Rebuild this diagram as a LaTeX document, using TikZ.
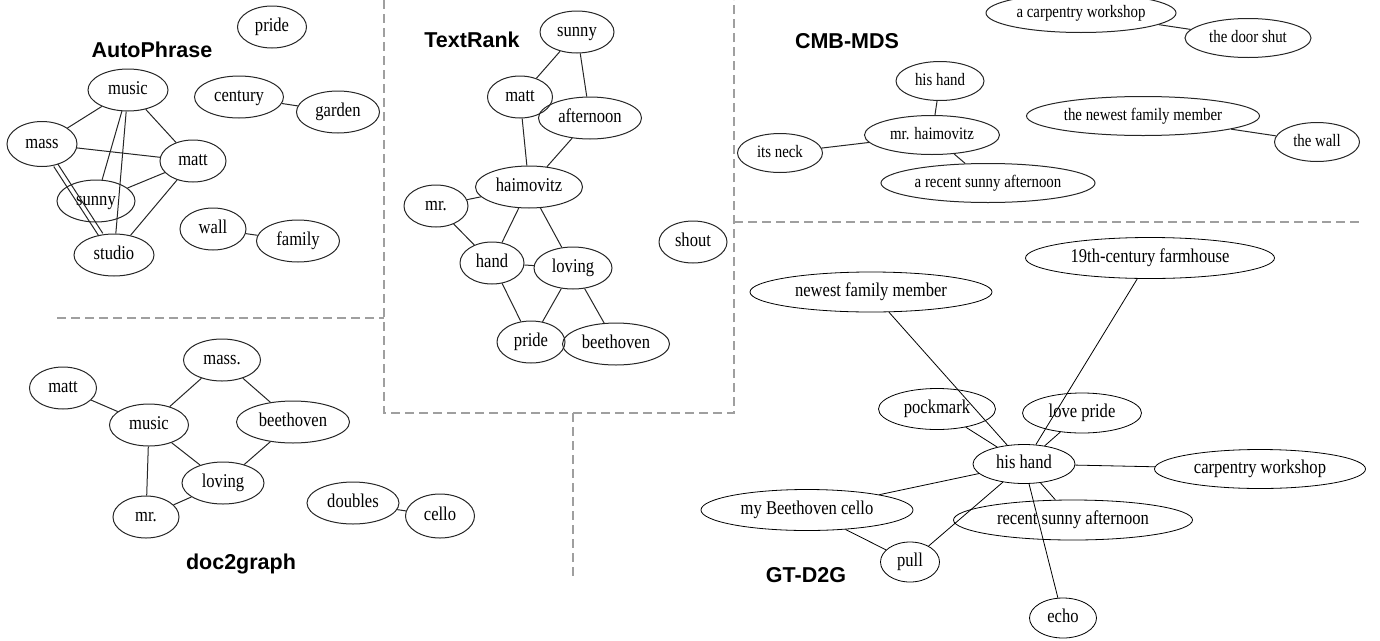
\documentclass[tikz,border=0pt]{standalone}
\usepackage{fontspec}
\setmainfont{Liberation Serif}
\newfontfamily\nodefont[FakeStretch=0.85]{Liberation Serif}
\newfontfamily\titlefont{Liberation Sans}
\usetikzlibrary{shapes.geometric}

\tikzset{
  base/.style={ellipse, draw=black!85, line width=1pt, inner sep=0pt,
    minimum height=42,
    execute at begin node={\hbox to 0pt\bgroup\hss\strut},
    execute at end node={\hss\egroup}},
  nd/.style={base, minimum width=#1,
    font=\nodefont\fontsize{19.5}{22}\selectfont},
  ndc/.style={base, minimum width=#1, minimum height=39,
    font=\nodefont\fontsize{17.5}{20}\selectfont},
  ndg/.style={base, minimum width=#1, minimum height=40, line width=.8pt,
    draw=black, font=\nodefont\fontsize{19.5}{22}\selectfont},
  ttl/.style={font=\titlefont\bfseries\fontsize{21.5}{24}\selectfont},
  lnk/.style={draw=black!85, line width=1pt},
  lnkg/.style={draw=black, line width=.8pt},
  divider/.style={draw=gray!75, line width=2pt, dash pattern=on 9pt off 5pt}
}

\begin{document}
\begin{tikzpicture}[x=1pt,y=-1pt]
  \useasboundingbox (0,0) rectangle (1380,640);

  % separators
  \draw[divider] (384,0) -- (384,413) -- (734,413) -- (734,0);
  \draw[divider] (57,318) -- (384,318);
  \draw[divider] (734,222) -- (1363,222);
  \draw[divider] (573,413) -- (573,578);

  % AutoPhrase
  \node[ttl] (tauto) at (152,50) {AutoPhrase};
  \node[nd=69] (apride) at (272,27) {pride};
  \node[nd=80] (amusic) at (128,90) {music};
  \node[nd=89] (acentury) at (239,97) {century};
  \node[nd=83] (agarden) at (338,112) {garden};
  \node[nd=70, minimum height=45] (amass) at (42,144) {mass};
  \node[nd=66] (amatt) at (193,161) {matt};
  \node[nd=78] (asunny) at (96,201) {sunny};
  \node[nd=80] (astudio) at (114,255) {studio};
  \node[nd=66] (awall) at (213,229) {wall};
  \node[nd=83] (afamily) at (298,241) {family};
  \foreach \from/\to in {amusic/amass,amusic/amatt,amusic/asunny,amusic/astudio,
      amass/amatt,amatt/asunny,amatt/astudio,acentury/agarden,awall/afamily}
    \draw[lnk] (\from) -- (\to);
  \draw[lnk, transform canvas={shift={(2,-1.3)}}] (amass) -- (astudio);
  \draw[lnk, transform canvas={shift={(-2,1.3)}}] (amass) -- (astudio);

  % TextRank
  \node[ttl] (ttext) at (472,40) {TextRank};
  \node[nd=74] (tsunny) at (577,32) {sunny};
  \node[nd=65] (tmatt) at (520,97) {matt};
  \node[nd=103] (tafternoon) at (590,118) {afternoon};
  \node[nd=107] (thaim) at (529,187) {haimovitz};
  \node[nd=64] (tmr) at (436,206) {mr.};
  \node[nd=64] (thand) at (492,263) {hand};
  \node[nd=78] (tloving) at (573,268) {loving};
  \node[nd=68] (tpride) at (531,342) {pride};
  \node[nd=107] (tbeet) at (616,344) {beethoven};
  \node[nd=68] (tshout) at (693,242) {shout};
  \foreach \from/\to in {tsunny/tmatt,tsunny/tafternoon,tmatt/thaim,tafternoon/thaim,
      thaim/tmr,tmr/thand,thaim/thand,thaim/tloving,thand/tloving,
      thand/tpride,tloving/tpride,tloving/tbeet}
    \draw[lnk] (\from) -- (\to);

  % doc2graph
  \node[ttl] (tdoc) at (241,564) {doc2graph};
  \node[nd=67] (dmatt) at (63,388) {matt};
  \node[nd=77] (dmass) at (222,360) {mass.};
  \node[nd=79] (dmusic) at (149,425) {music};
  \node[nd=113] (dbeet) at (293,422) {beethoven};
  \node[nd=82] (dloving) at (223,483) {loving};
  \node[nd=66] (dmr) at (146,517) {mr.};
  \node[nd=92] (ddoubles) at (353,503) {doubles};
  \node[nd=69, minimum height=44] (dcello) at (440,516) {cello};
  \foreach \from/\to in {dmatt/dmusic,dmusic/dmass,dmass/dbeet,dmusic/dloving,
      dbeet/dloving,dmusic/dmr,dmr/dloving,ddoubles/dcello}
    \draw[lnk] (\from) -- (\to);

  % CMB-MDS
  \node[ttl] (tcmb) at (847,41) {CMB-MDS};
  \node[ndc=190] (cworkshop) at (1081,13) {a carpentry workshop};
  \node[ndc=126] (cdoor) at (1248,38) {the door shut};
  \node[ndc=88] (chand) at (940,81) {his hand};
  \node[ndc=135] (chaim) at (932,135) {mr. haimovitz};
  \node[ndc=85] (cneck) at (780,153) {its neck};
  \node[ndc=214] (cafternoon) at (988,183) {a recent sunny afternoon};
  \node[ndc=233] (cmember) at (1143,116) {the newest family member};
  \node[ndc=85] (cwall) at (1317,142) {the wall};
  \foreach \from/\to in {cworkshop/cdoor,chand/chaim,cneck/chaim,
      chaim/cafternoon,cmember/cwall}
    \draw[lnk] (\from) -- (\to);

  % GT-D2G
  \node[ttl] (tgt) at (806,575) {GT-D2G};
  \node[ndg=102, minimum height=39] (ghand) at (1024,464) {his hand};
  \node[ndg=242] (gmember) at (871,292) {newest family member};
  \node[ndg=249, minimum height=41] (gfarm) at (1150,258) {19th-century farmhouse};
  \node[ndg=117, minimum height=41] (gpock) at (937,409) {pockmark};
  \node[ndg=119] (glove) at (1082,413) {love pride};
  \node[ndg=211, minimum height=39] (gworkshop) at (1260,469) {carpentry workshop};
  \node[ndg=212, minimum height=41] (gcello) at (807,510) {my Beethoven cello};
  \node[ndg=239] (gafternoon) at (1073,520) {recent sunny afternoon};
  \node[ndg=59] (gpull) at (910,562) {pull};
  \node[ndg=67] (gecho) at (1063,618) {echo};
  \foreach \to in {gmember,gfarm,gpock,glove,gworkshop,gcello,gafternoon,gpull,gecho}
    \draw[lnkg] (ghand) -- (\to);
  \draw[lnkg] (gcello) -- (gpull);
\end{tikzpicture}
\end{document}
